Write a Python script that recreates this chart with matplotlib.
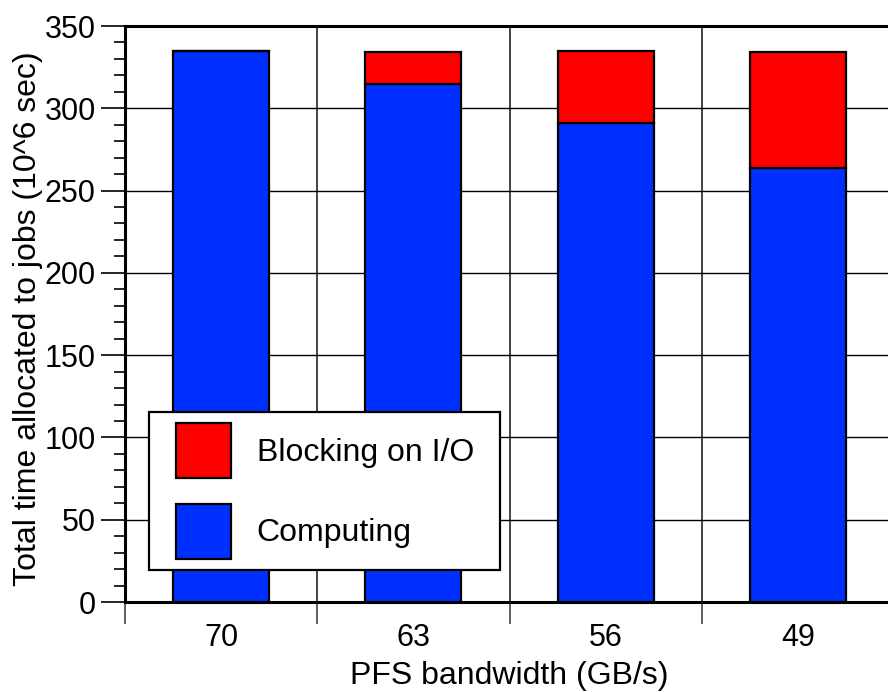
import matplotlib
matplotlib.use("Agg")
import matplotlib.pyplot as plt
from matplotlib.patches import Patch, Rectangle
from matplotlib.legend_handler import HandlerPatch
from matplotlib.ticker import MultipleLocator, FixedLocator, NullFormatter
import numpy as np

bandwidths = ["70", "63", "56", "49"]
computing = [335, 315, 291, 264]
blocking_io = [0, 19, 44, 70]

plt.rcParams['font.family'] = ['Liberation Sans', 'DejaVu Sans']
FS = 23
TICK_FS = 22

fig = plt.figure(figsize=(8.88, 6.92), dpi=100)
W, H = 888, 692
left, right, top, bottom = 125, 894, 26, 602
ax = fig.add_axes([left / W, 1 - bottom / H, (right - left) / W, (bottom - top) / H])

blue = '#0030FF'
red = '#FF0000'
x = np.arange(len(bandwidths)) + 0.5
ax.bar(x, computing, width=0.5, color=blue, edgecolor='black', linewidth=1.6, zorder=3)
ax.bar(x, blocking_io, width=0.5, bottom=computing, color=red, edgecolor='black',
       linewidth=1.6, zorder=3)

ax.set_xlim(0, len(bandwidths))
ax.set_ylim(0, 350)

# y axis: majors every 50, minors every 10
ax.yaxis.set_major_locator(MultipleLocator(50))
ax.yaxis.set_minor_locator(MultipleLocator(10))
ax.tick_params(axis='y', which='major', length=17, width=1.2, labelsize=TICK_FS, pad=4)
ax.tick_params(axis='y', which='minor', length=8, width=1.2)

# x axis: ticks on category boundaries, labels at category centres
ax.xaxis.set_major_locator(FixedLocator(np.arange(len(bandwidths) + 1)))
ax.xaxis.set_major_formatter(NullFormatter())
ax.xaxis.set_minor_locator(FixedLocator(x))
ax.set_xticklabels(bandwidths, minor=True)
ax.tick_params(axis='x', which='major', length=16, width=1.2, color='#444444')
ax.tick_params(axis='x', which='minor', length=0, labelsize=TICK_FS, pad=15)

ax.grid(axis='y', which='major', color='black', linewidth=1.0, zorder=0)
for b in range(1, len(bandwidths)):
    ax.axvline(b, color='#444444', linewidth=1.4, zorder=0)

for side in ['left', 'bottom', 'top']:
    ax.spines[side].set_linewidth(2.2)
ax.spines['right'].set_visible(False)

ax.set_ylabel("Total time allocated to jobs (10^6 sec)", fontsize=FS)
ax.yaxis.set_label_coords(-0.107, 0.491)
ax.set_xlabel("PFS bandwidth (GB/s)", fontsize=FS, labelpad=6)


def square_swatch(legend, orig_handle, xdescent, ydescent, width, height, fontsize):
    # square swatch pushed right inside a wider handle box
    side = height
    return Rectangle((-xdescent + width - side, -ydescent), side, side)


handles = [Patch(facecolor=red, edgecolor='black', linewidth=1.6, label='Blocking on I/O'),
           Patch(facecolor=blue, edgecolor='black', linewidth=1.6, label='Computing')]
aw, ah = right - left, bottom - top
leg_box = ((149 - left) / aw, (bottom - 570) / ah, (500 - 149) / aw, (570 - 411) / ah)
leg = ax.legend(handles=handles, loc='lower left', bbox_to_anchor=leg_box, mode='expand',
                handler_map={Patch: HandlerPatch(patch_func=square_swatch)},
                fontsize=FS, handlelength=2.22, handleheight=2.27, handletextpad=0.8,
                labelspacing=0.8, borderpad=0.35, borderaxespad=0, fancybox=False,
                framealpha=1, edgecolor='black')
leg.get_frame().set_linewidth(1.6)
leg.set_zorder(5)

fig.savefig("out.png", dpi=100)
